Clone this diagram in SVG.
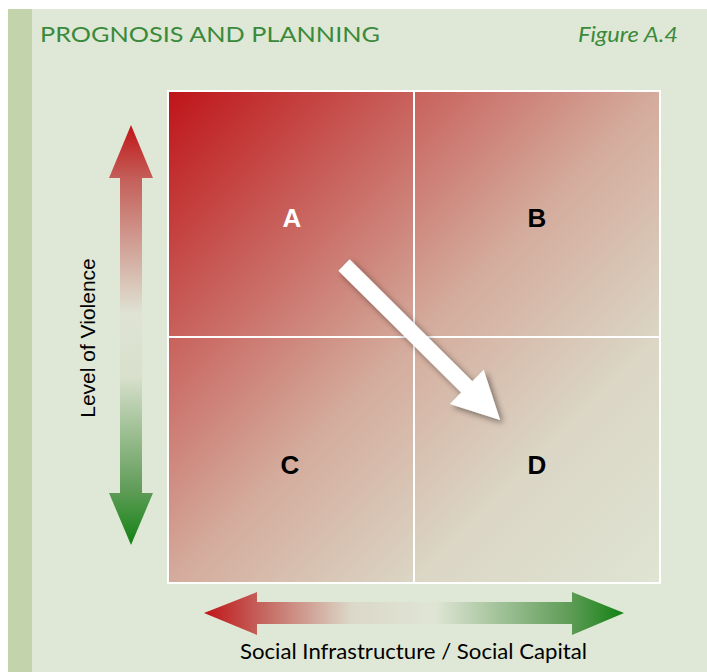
<svg xmlns="http://www.w3.org/2000/svg" width="707" height="672" viewBox="0 0 707 672">
<defs>
<style>
.title{font-family:Lato,"Liberation Sans",sans-serif;font-size:22px;fill:#3b8a3b}
.fig{font-family:Lato,"Liberation Sans",sans-serif;font-size:21px;font-style:italic;fill:#3b8a3b}
.q{font-family:"Liberation Sans",Arial,sans-serif;font-size:26px;font-weight:bold;text-anchor:middle;fill:#000}
.axis{font-family:Lato,"Liberation Sans",sans-serif;font-size:21px;fill:#000}
.vaxis{font-family:"Liberation Sans",Arial,sans-serif;font-size:21px;fill:#000}
.grid{fill:none;stroke:#fff;stroke-width:2}
</style>
<linearGradient id="gq" gradientUnits="userSpaceOnUse" x1="168" y1="91" x2="660" y2="583">
<stop offset="0" stop-color="#bf1418"/>
<stop offset="0.25" stop-color="#c8605b"/>
<stop offset="0.5" stop-color="#d4ab9c"/>
<stop offset="0.75" stop-color="#dbd6c5"/>
<stop offset="1" stop-color="#dfe4d3"/>
</linearGradient>
<linearGradient id="gv" gradientUnits="userSpaceOnUse" x1="0" y1="125" x2="0" y2="545">
<stop offset="0" stop-color="#c01418"/>
<stop offset="0.13" stop-color="#c4605a"/>
<stop offset="0.45" stop-color="#dfe3d4"/>
<stop offset="0.6" stop-color="#d8e0cc"/>
<stop offset="0.87" stop-color="#5f9c57"/>
<stop offset="1" stop-color="#128212"/>
</linearGradient>
<linearGradient id="gh" gradientUnits="userSpaceOnUse" x1="204" y1="0" x2="624" y2="0">
<stop offset="0" stop-color="#c01418"/>
<stop offset="0.13" stop-color="#c4605a"/>
<stop offset="0.35" stop-color="#dbd8c8"/>
<stop offset="0.55" stop-color="#dfe5d5"/>
<stop offset="0.87" stop-color="#5f9c57"/>
<stop offset="1" stop-color="#128212"/>
</linearGradient>
<filter id="sh" x="-20%" y="-20%" width="140%" height="140%">
<feDropShadow dx="3" dy="3" stdDeviation="3" flood-color="#000" flood-opacity="0.45"/>
</filter>
</defs>
<rect x="0" y="0" width="707" height="672" fill="#fff"/>
<rect x="8" y="9" width="699" height="663" fill="#dfe8d6"/>
<rect x="8" y="9" width="24" height="663" fill="#c3d4ad"/>
<text class="title" x="40" y="42" textLength="340" lengthAdjust="spacingAndGlyphs">PROGNOSIS AND PLANNING</text>
<text class="fig" x="578" y="42" textLength="100" lengthAdjust="spacingAndGlyphs">Figure A.4</text>
<g id="quadrants">
<rect x="168" y="91" width="492" height="492" fill="url(#gq)"/>
<rect class="grid" x="168" y="91" width="492" height="492"/>
<line class="grid" x1="414" y1="91" x2="414" y2="583"/>
<line class="grid" x1="168" y1="337" x2="660" y2="337"/>
</g>
<g id="nodeA"><text class="q" x="292" y="227" fill="#fff" style="fill:#fff">A</text></g>
<g id="nodeB"><text class="q" x="537" y="227">B</text></g>
<g id="nodeC"><text class="q" x="290" y="474">C</text></g>
<g id="nodeD"><text class="q" x="537" y="474">D</text></g>
<g id="connectors">
<g filter="url(#sh)">
<polygon transform="translate(344,265) rotate(44.8)" points="0,-8 173,-8 173,-24 220,0 173,24 173,8 0,8" fill="#fff"/>
</g>
<polygon id="vArrow" points="131,125 153,178 142,178 142,493 153,493 131,545 109,493 120,493 120,178 109,178" fill="url(#gv)"/>
<polygon id="hArrow" points="204,613 257,592 257,602 572,602 572,592 624,613 572,635 572,624 257,624 257,635" fill="url(#gh)"/>
</g>
<text class="vaxis" transform="translate(95,338) rotate(-90)" text-anchor="middle">Level of Violence</text>
<text class="axis" x="240" y="659" textLength="347" lengthAdjust="spacingAndGlyphs">Social Infrastructure / Social Capital</text>
</svg>
